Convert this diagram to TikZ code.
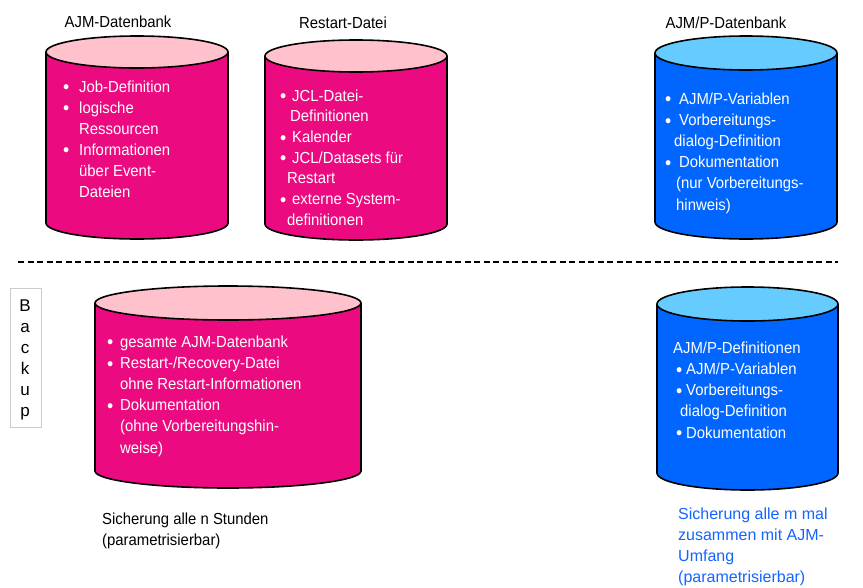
\documentclass[tikz,border=0pt]{standalone}
\usepackage{fontspec}
\setmainfont{Liberation Sans}[FakeStretch=0.93]
\newfontfamily\plainfont{Liberation Sans}
\definecolor{magbody}{HTML}{EC0A80}
\definecolor{magtop}{HTML}{FFC1CC}
\definecolor{bluebody}{HTML}{0066FF}
\definecolor{bluetop}{HTML}{66CCFF}
\definecolor{bluetext}{HTML}{1464FF}
\newlength\bw
\newcommand\itm[1]{\makebox[\bw][l]{\raisebox{-1.8pt}{\fontsize{19}{21}\selectfont\textbullet}}#1}
\newcommand\cnt[1]{\hspace*{\bw}#1}
% cx, rx, ytop-center, ybottom-center, ry, body, top
\newcommand\mycyl[7]{%
  \fill[#6] (#1-#2,#3) -- (#1-#2,#4) arc[start angle=180,end angle=360,x radius=#2pt,y radius=#5pt] -- (#1+#2,#3) -- cycle;
  \draw[cylline] (#1-#2,#3) -- (#1-#2,#4) arc[start angle=180,end angle=360,x radius=#2pt,y radius=#5pt] -- (#1+#2,#3);
  \draw[cylline,fill=#7] (#1,#3) ellipse[x radius=#2pt,y radius=#5pt];
}
\begin{document}
\begin{tikzpicture}[x=1pt,y=-1pt,
  cylline/.style={line width=1.6pt,black},
  title/.style={anchor=base,inner sep=0pt,font=\fontsize{16}{21}\selectfont},
  inside/.style={anchor=base west,inner sep=0pt,text=white,font=\fontsize{16}{21}\selectfont},
  note/.style={anchor=base west,inner sep=0pt,font=\fontsize{16}{21}\selectfont}]
\useasboundingbox (0,0) rectangle (863,587);
\fill[white] (0,0) rectangle (863,587);

% titles
\node[title] (t1) at (118,27) {AJM-Datenbank};
\node[title] (t2) at (343,28) {Restart-Datei};
\node[title] (t3) at (726,28) {AJM/P-Datenbank};

% cylinders
\mycyl{137}{91}{52}{223}{16}{magbody}{magtop}
\mycyl{356}{91}{56}{224}{16}{magbody}{magtop}
\mycyl{746}{91}{53}{222}{17}{bluebody}{bluetop}
\mycyl{228}{133}{303}{471}{17}{magbody}{magtop}
\mycyl{747.5}{90.5}{304}{473}{17}{bluebody}{bluetop}

% texts inside cylinders
\node[inside] (c1) at (63,92) {\setlength\bw{16pt}\parbox[t]{170pt}{%
  \itm{Job-Definition}\\\itm{logische}\\\cnt{Ressourcen}\\\itm{Informationen}\\\cnt{über Event-}\\\cnt{Dateien}}};
\node[inside] (c2) at (280,101) {\setlength\bw{12pt}\parbox[t]{170pt}{\baselineskip=20.7pt
  \itm{JCL-Datei-}\\\hspace*{10pt}Definitionen\\\itm{Kalender}\\\itm{JCL/Datasets für}\\\hspace*{7pt}Restart\\\itm{externe System-}\\\hspace*{7pt}definitionen}};
\node[inside] (c3) at (665,104) {\setlength\bw{14pt}\parbox[t]{170pt}{\baselineskip=21.2pt
  \itm{AJM/P-Variablen}\\\itm{Vorbereitungs-}\\\hspace*{9pt}dialog-Definition\\\itm{Dokumentation}\\\hspace*{11pt}(nur Vorbereitungs-\\\hspace*{11pt}hinweis)}};
\node[inside] (c4) at (107,347) {\setlength\bw{13pt}\parbox[t]{240pt}{\baselineskip=21.2pt
  \itm{gesamte AJM-Datenbank}\\\itm{Restart-/Recovery-Datei}\\\cnt{ohne Restart-Informationen}\\\itm{Dokumentation}\\\cnt{(ohne Vorbereitungshin-}\\\cnt{weise)}}};
\node[inside] (c5) at (673,353) {\setlength\bw{10pt}\parbox[t]{170pt}{\baselineskip=21.25pt
  AJM/P-Definitionen\\\hspace*{3pt}\itm{AJM/P-Variablen}\\\hspace*{3pt}\itm{Vorbereitungs-}\\\hspace*{7pt}dialog-Definition\\\hspace*{3pt}\itm{Dokumentation}}};

% dashed separator
\coordinate (dl) at (18,262);
\coordinate (dr) at (838,262);
\draw[line width=1.8pt,dash pattern=on 6pt off 3.5pt] (dl) -- (dr);

% backup label
\node[draw=black!20,line width=0.8pt,minimum width=31pt,minimum height=139pt,inner sep=0pt] (bk) at (25.5,357.5) {};
\node[anchor=base,inner sep=0pt,font=\plainfont\fontsize{17}{21}\selectfont] (bt) at (25,311) {\parbox[t]{20pt}{\centering B\\a\\c\\k\\u\\p}};

% notes
\node[note] (n1) at (102,524) {\parbox[t]{250pt}{Sicherung alle n Stunden\\(parametrisierbar)}};
\node[note,text=bluetext,font=\plainfont\fontsize{16}{21}\selectfont] (n2) at (678,519) {\parbox[t]{180pt}{\baselineskip=21pt Sicherung alle m mal\\zusammen mit AJM-\\Umfang\\(parametrisierbar)}};
\end{tikzpicture}
\end{document}
